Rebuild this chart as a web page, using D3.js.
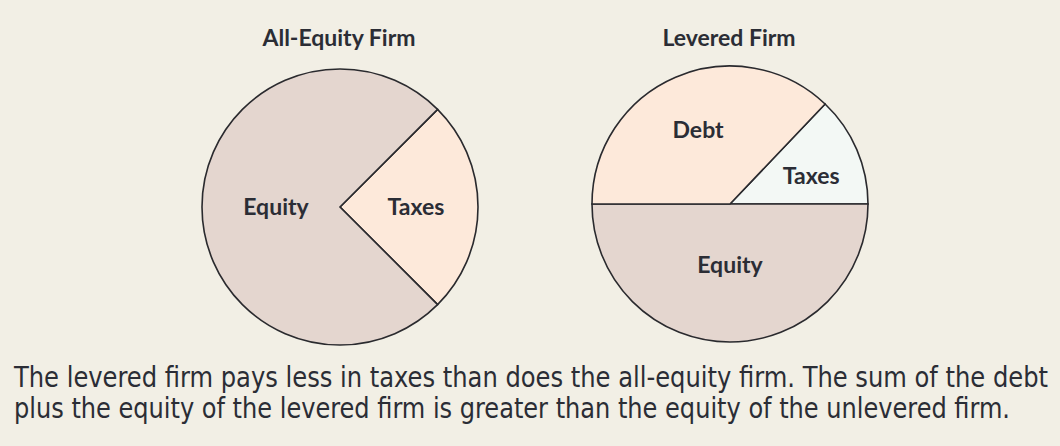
<!DOCTYPE html>
<html>
<head>
<meta charset="utf-8">
<script src="https://cdn.jsdelivr.net/npm/d3@7"></script>
<style>
  html, body { margin: 0; padding: 0; background: #f2efe5; }
  svg { display: block; }
</style>
</head>
<body>
<svg id="chart" width="1060" height="446"></svg>
<script>
// ---- data ----
const chartTitles = ["All-Equity Firm", "Levered Firm"];
const allEquityLabels = ["Taxes", "Equity"];
const allEquityValues = [25, 75];
const leveredLabels = ["Taxes", "Equity", "Debt"];
const leveredValues = [12.9, 50, 37.1];
const captionLines = [
  "The levered firm pays less in taxes than does the all-equity firm. The sum of the debt",
  "plus the equity of the levered firm is greater than the equity of the unlevered firm."
];

// ---- layout / style ----
const bg = "#f2efe5";
const fills = { "Taxes": "#fde9da", "Equity": "#e4d6cf", "Debt": "#fde9da" };
const leveredFills = { "Taxes": "#f3f8f5", "Equity": "#e4d6cf", "Debt": "#fde9da" };
const textColor = "#2b2d35";
const R = 138;
const boldFont = "Lato, 'Open Sans', sans-serif";

const svg = d3.select("#chart");
svg.append("rect").attr("width", 1060).attr("height", 446).attr("fill", bg);

const pieGen = d3.pie().sort(null).value(d => d.value);
const arcGen = d3.arc().innerRadius(0).outerRadius(R);

const charts = [
  { title: chartTitles[0], labels: allEquityLabels, values: allEquityValues,
    cx: 340, cy: 207, start: Math.PI / 4, fills: fills,
    labelPos: { "Taxes": [76, 0], "Equity": [64, 0] } },
  { title: chartTitles[1], labels: leveredLabels, values: leveredValues,
    cx: 730, cy: 204, start: Math.PI / 2 - 2 * Math.PI * 12.9 / 100, fills: leveredFills,
    labelPos: { "Taxes": [86, 4], "Equity": [61, 0], "Debt": [81, 0] } }
];

charts.forEach(c => {
  const g = svg.append("g").attr("transform", `translate(${c.cx},${c.cy})`);
  const data = c.labels.map((l, i) => ({ label: l, value: c.values[i] }));
  const arcs = pieGen.startAngle(c.start).endAngle(c.start + 2 * Math.PI)(data);

  g.selectAll("path.slice").data(arcs).enter().append("path")
    .attr("class", "slice")
    .attr("d", arcGen)
    .attr("fill", d => c.fills[d.data.label])
    .attr("stroke", "#2a2a2e")
    .attr("stroke-width", 1.6)
    .attr("stroke-linejoin", "miter");

  const pos = d => {
    const [dist, shiftDeg] = c.labelPos[d.data.label];
    const a = (d.startAngle + d.endAngle) / 2 + shiftDeg * Math.PI / 180;
    return [Math.sin(a) * dist, -Math.cos(a) * dist];
  };

  g.selectAll("text.lbl").data(arcs).enter().append("text")
    .attr("class", "lbl")
    .attr("x", d => pos(d)[0])
    .attr("y", d => pos(d)[1])
    .attr("dy", "0.36em")
    .attr("text-anchor", "middle")
    .attr("font-family", boldFont)
    .attr("font-weight", 700)
    .attr("font-size", 23)
    .attr("fill", textColor)
    .text(d => d.data.label);

  svg.append("text")
    .attr("x", c.cx - 1).attr("y", 46)
    .attr("text-anchor", "middle")
    .attr("font-family", boldFont)
    .attr("font-weight", 700)
    .attr("font-size", 23)
    .attr("fill", textColor)
    .text(c.title);
});

const captionWidths = [1034, 996];
svg.selectAll("text.caption").data(captionLines).enter().append("text")
  .attr("class", "caption")
  .attr("x", 14)
  .attr("y", (d, i) => 387 + i * 31)
  .attr("font-family", "'DejaVu Sans Condensed', 'Liberation Sans Narrow', 'Noto Sans', sans-serif")
  .attr("font-size", 28)
  .attr("fill", textColor)
  .attr("textLength", (d, i) => captionWidths[i])
  .attr("lengthAdjust", "spacingAndGlyphs")
  .text(d => d);
</script>
</body>
</html>
